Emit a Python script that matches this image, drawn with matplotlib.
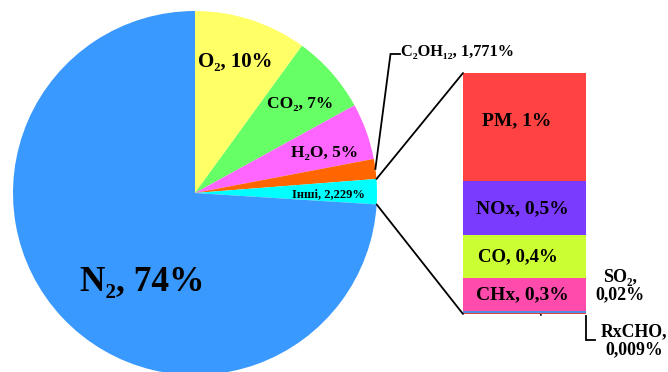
import matplotlib
matplotlib.use("Agg")
import matplotlib.pyplot as plt
from matplotlib.patches import ConnectionPatch
import numpy as np

# Exhaust gas composition (main pie)
pie_labels = ["O₂", "CO₂", "H₂O", "C₂OH₁₂", "Інші", "N₂"]
pie_values = [10, 7, 5, 1.771, 2.229, 74]
pie_value_text = ["10%", "7%", "5%", "1,771%", "2,229%", "74%"]
pie_colors = ["#FFFF66", "#66FF66", "#FF66FF", "#FF6600", "#00FFFF", "#3A99FF"]

# Breakdown of "Інші" (stacked bar, bottom to top)
bar_labels = ["RxCHO", "SO₂", "CHx", "CO", "NOx", "PM"]
bar_values = [0.009, 0.02, 0.3, 0.4, 0.5, 1]
bar_value_text = ["0,009%", "0,02%", "0,3%", "0,4%", "0,5%", "1%"]
bar_colors = ["#E04848", "#4A8FE0", "#FF4BAB", "#CCFF33", "#7B3BFF", "#FF4343"]

FONT = ["Liberation Serif", "DejaVu Serif"]
W, H = 668, 372

fig = plt.figure(figsize=(W / 100, H / 100), dpi=100)
fig.patch.set_facecolor("white")

# Pie axes in pixel-like coordinates (y up)
ax = fig.add_axes([0, 0, 1, 1])
center = (195, 179)
radius = 182
wedges, _ = ax.pie(pie_values, colors=pie_colors, startangle=90,
                   counterclock=False, center=center, radius=radius,
                   wedgeprops=dict(linewidth=0))
ax.set_xlim(0, W)
ax.set_ylim(0, H)
ax.set_aspect("auto")
ax.axis("off")

def txt(x, y, s, size, ha="center", va="center", **kw):
    ax.text(x, y, s, fontsize=size, fontweight="bold", family=FONT,
            ha=ha, va=va, **kw)

# Pie labels
txt(235, 310, f"{pie_labels[0]}, {pie_value_text[0]}", 15)
txt(300, 268, f"{pie_labels[1]}, {pie_value_text[1]}", 12.5)
txt(325, 219, f"{pie_labels[2]}, {pie_value_text[2]}", 12.5)
txt(328, 177, f"{pie_labels[4]}, {pie_value_text[4]}", 9)
txt(142, 89, f"{pie_labels[5]}, {pie_value_text[5]}", 25.5)
txt(401, 320, f"{pie_labels[3]}, {pie_value_text[3]}", 11.8, ha="left")

# Leader for the small orange slice
w_or = wedges[3]
a_mid = np.deg2rad((w_or.theta1 + w_or.theta2) / 2)
p0 = (center[0] + radius * np.cos(a_mid), center[1] + radius * np.sin(a_mid))
ax.plot([p0[0], 390.5, 400], [p0[1], 318, 318], color="black", lw=1.3,
        solid_joinstyle="miter")

# Stacked bar axes
total = sum(bar_values)
ax2 = fig.add_axes([463 / W, 58 / H, 123 / W, 241 / H])
bottoms = np.concatenate([[0], np.cumsum(bar_values)[:-1]])
ax2.bar(0, bar_values, bottom=bottoms, width=1, color=bar_colors, linewidth=0)
ax2.set_xlim(-0.5, 0.5)
ax2.set_ylim(0, total)
ax2.axis("off")

# Labels inside the bar segments
offsets = {"CHx": (-2, 0), "CO": (-7, 0), "NOx": (-2, -1), "PM": (-8, 6)}
sizes = {"CHx": 14, "CO": 13.5, "NOx": 14, "PM": 14}
for lab, val, vt, b in zip(bar_labels, bar_values, bar_value_text, bottoms):
    if lab in offsets:
        ax2.annotate(f"{lab}, {vt}", xy=(0, b + val / 2),
                     xytext=offsets[lab], textcoords="offset pixels",
                     ha="center", va="center", fontsize=sizes[lab],
                     fontweight="bold", family=FONT)

# Labels for the thin segments
txt(620, 86, f"{bar_labels[1]},\n{bar_value_text[1]}", 13, linespacing=1.05)
txt(634, 31, f"{bar_labels[0]},\n{bar_value_text[0]}", 12.8, linespacing=1.05)
ax.plot([541, 535], [57, 69], color="black", lw=1.1)
ax.plot([586, 586, 595], [56, 32, 32], color="black", lw=1.3,
        solid_joinstyle="miter")

# Connectors from the "Інші" slice to the bar
w_ot = wedges[4]
for ang, yb in ((w_ot.theta2, total), (w_ot.theta1, 0)):
    a = np.deg2rad(ang)
    p = (center[0] + radius * np.cos(a), center[1] + radius * np.sin(a))
    con = ConnectionPatch(xyA=p, coordsA=ax.transData, xyB=(-0.5, yb),
                          coordsB=ax2.transData, color="black", lw=1.3)
    fig.add_artist(con)

fig.savefig("out.png", dpi=100, facecolor="white")
